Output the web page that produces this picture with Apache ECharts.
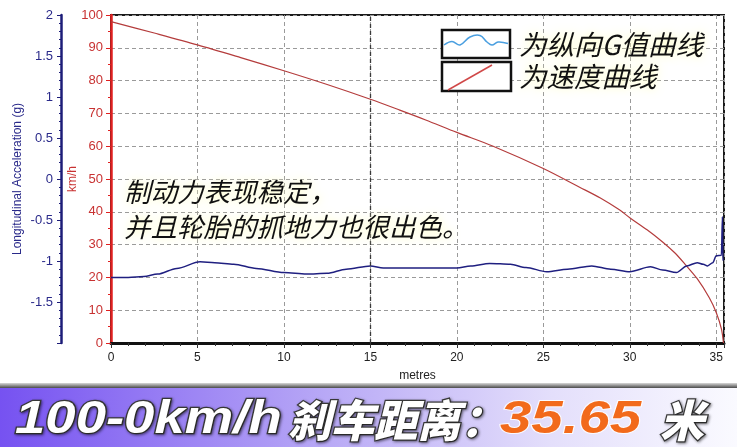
<!DOCTYPE html>
<html><head><meta charset="utf-8">
<script src="https://cdn.jsdelivr.net/npm/echarts@6/dist/echarts.min.js"></script>
<style>html,body{margin:0;padding:0;background:#fff}#c{width:737px;height:447px}</style>
</head><body><div id="c"></div>
<script>
// distance (m) / speed (km/h)
const speedDist  = [0, 2.5, 5.0, 7.5, 10.0, 12.5, 15.0, 16.7, 18.2, 20.0, 22.1, 25.0, 27.1, 28.3, 29.4, 30.0, 31.0, 31.9, 32.6, 33.2, 33.9, 34.6, 35.0, 35.3, 35.42];
const speedValue = [98.0, 94.5, 90.9, 87.0, 83.0, 78.8, 74.3, 71.0, 68.0, 64.2, 60.0, 53.2, 47.5, 44.2, 40.6, 38.2, 34.5, 30.8, 27.5, 24.0, 19.6, 13.8, 9.3, 4.3, 0];
// distance (m) / longitudinal acceleration (g)
const gDist  = [0, 1.0, 1.9, 2.7, 3.8, 5.15, 6.0, 7.1, 8.4, 10.0, 11.3, 12.5, 13.6, 15.0, 15.75, 17.3, 20.0, 20.8, 21.9, 23.1, 24.0, 25.2, 26.4, 27.8, 28.9, 30.0, 31.2, 31.9, 32.7, 33.3, 33.9, 34.25, 34.5, 34.8, 35.0, 35.3, 35.36, 35.38, 35.42];
const gValue = [-1.2, -1.2, -1.19, -1.16, -1.09, -1.01, -1.02, -1.04, -1.09, -1.14, -1.16, -1.15, -1.10, -1.06, -1.085, -1.085, -1.085, -1.06, -1.03, -1.04, -1.08, -1.13, -1.10, -1.06, -1.10, -1.13, -1.07, -1.11, -1.14, -1.06, -1.02, -1.04, -1.06, -1.02, -0.935, -0.93, -0.46, -0.99, -0.97];
const markerDist = [15];
const legendNames = ['为纵向G值曲线', '为速度曲线'];
const noteLines = ['制动力表现稳定，', '并且轮胎的抓地力也很出色。'];
const bannerParts = ['100-0km/h', '刹车距离：', '35.65', '米'];

const chart = echarts.init(document.getElementById('c'));
const dash = [4, 3];
const cjk = '"Noto Sans CJK SC", "Noto Sans", sans-serif';
const lat = '"Liberation Sans", Arial, sans-serif';

const glow = {textShadowColor: 'rgba(255,255,190,1)', textShadowBlur: 8};
const whiteBanner = {fill: '#ffffff', stroke: '#3a3a3a', lineWidth: 2.5, verticalAlign: 'middle', textShadowColor: 'rgba(0,0,0,0.45)', textShadowBlur: 3, textShadowOffsetX: 1, textShadowOffsetY: 1};

chart.setOption({
  animation: false,
  backgroundColor: '#ffffff',
  grid: {left: 111, top: 15, right: 13, bottom: 104, show: true, borderColor: '#1a1a1a', borderWidth: 2, backgroundColor: '#fff'},
  xAxis: {
    type: 'value', min: 0, max: 35.45, interval: 5,
    axisLine: {onZero: false, lineStyle: {color: '#111', width: 3}},
    axisTick: {show: true, length: 5, lineStyle: {color: '#333'}},
    minorTick: {show: true, splitNumber: 5, length: 3, lineStyle: {color: '#333'}},
    axisLabel: {color: '#222', fontSize: 12, fontFamily: lat, margin: 9,
      formatter: v => (Math.abs(v % 5) < 1e-9 ? String(v) : '')},
    splitLine: {show: true, lineStyle: {color: '#9a9a9a', type: dash, width: 1}},
    name: 'metres', nameLocation: 'middle', nameGap: 27, nameMoveOverlap: false,
    nameTextStyle: {color: '#222', fontSize: 12, fontFamily: lat}
  },
  yAxis: [
    {
      type: 'value', min: 0, max: 100, interval: 10, position: 'left',
      axisLine: {show: true, onZero: false, lineStyle: {color: '#e02020', width: 2.5}},
      axisTick: {show: true, length: 5, lineStyle: {color: '#e02020'}},
      minorTick: {show: true, splitNumber: 2, length: 3, lineStyle: {color: '#e02020'}},
      axisLabel: {color: '#c83232', fontSize: 13, fontFamily: lat, margin: 8},
      splitLine: {show: true, lineStyle: {color: '#9a9a9a', type: dash, width: 1}},
      name: 'km/h', nameLocation: 'middle', nameGap: 32, nameMoveOverlap: false,
      nameTextStyle: {color: '#c83232', fontSize: 12, fontFamily: lat}
    },
    {
      type: 'value', min: -2, max: 2, interval: 0.5, position: 'left', offset: 50,
      axisLine: {show: true, onZero: false, lineStyle: {color: '#1c1c78', width: 2.5}},
      axisTick: {show: true, length: 4, lineStyle: {color: '#1c1c78'}},
      minorTick: {show: true, splitNumber: 5, length: 2, lineStyle: {color: '#1c1c78'}},
      axisLabel: {color: '#2a2a8a', fontSize: 13, fontFamily: lat, margin: 8,
        formatter: v => (v === -2 ? '' : String(v))},
      splitLine: {show: false},
      name: 'Longitudinal Acceleration (g)', nameLocation: 'middle', nameGap: 37, nameMoveOverlap: false,
      nameTextStyle: {color: '#2a2a8a', fontSize: 12, fontFamily: lat}
    }
  ],
  series: [
    {
      type: 'line', name: legendNames[1], yAxisIndex: 0,
      data: speedDist.map((d, i) => [d, speedValue[i]]),
      showSymbol: false, symbol: 'none', smooth: 0.3,
      lineStyle: {color: '#b43c3c', width: 1.2},
      markLine: {symbol: 'none', silent: true, label: {show: false},
        lineStyle: {color: '#3a3a3a', type: dash, width: 1.3},
        data: markerDist.map(v => ({xAxis: v}))},
      z: 3
    },
    {
      type: 'line', name: legendNames[0], yAxisIndex: 1,
      data: gDist.map((d, i) => [d, gValue[i]]),
      showSymbol: false, symbol: 'none', smooth: 0.3, smoothMonotone: 'x',
      lineStyle: {color: '#1f1f80', width: 1.5},
      z: 4
    }
  ],
  graphic: [
    // note text
    {type: 'text', x: 124, y: 192, z: 50, style: Object.assign({text: noteLines[0], fill: '#111', fontSize: 26.5, fontStyle: 'italic', fontFamily: cjk, verticalAlign: 'middle'}, glow)},
    {type: 'text', x: 124, y: 227, z: 50, style: Object.assign({text: noteLines[1], fill: '#111', fontSize: 26.5, fontStyle: 'italic', fontFamily: cjk, verticalAlign: 'middle'}, glow)},
    // legend boxes
    {type: 'rect', z: 50, shape: {x: 442, y: 30, width: 68, height: 28}, style: {fill: '#fff', stroke: '#111', lineWidth: 2.5}},
    {type: 'polyline', z: 51, shape: {points: [[444, 45], [452, 41.5], [460, 45], [470, 37], [480, 35.5], [487, 42], [492, 45], [498, 42], [508, 43.5]], smooth: 0.4}, style: {stroke: '#4a9fe0', lineWidth: 1.5, fill: null}},
    {type: 'rect', z: 50, shape: {x: 442, y: 62, width: 69, height: 29}, style: {fill: '#fff', stroke: '#111', lineWidth: 2.5}},
    {type: 'line', z: 51, shape: {x1: 448, y1: 90, x2: 492, y2: 65}, style: {stroke: '#d04848', lineWidth: 1.5}},
    {type: 'text', x: 519, y: 45, z: 50, style: Object.assign({text: legendNames[0], fill: '#111', fontSize: 27.5, fontStyle: 'italic', fontFamily: cjk, verticalAlign: 'middle'}, glow)},
    {type: 'text', x: 519, y: 77, z: 50, style: Object.assign({text: legendNames[1], fill: '#111', fontSize: 27.5, fontStyle: 'italic', fontFamily: cjk, verticalAlign: 'middle'}, glow)},
    // banner
    {type: 'rect', z: 40, shape: {x: 0, y: 383, width: 737, height: 5},
      style: {fill: new echarts.graphic.LinearGradient(0, 0, 0, 1, [{offset: 0, color: '#d8d8d8'}, {offset: 1, color: '#4a4a4a'}])}},
    {type: 'rect', z: 40, shape: {x: 0, y: 388, width: 737, height: 59},
      style: {fill: new echarts.graphic.LinearGradient(0, 0, 1, 0, [{offset: 0, color: '#7652f1'}, {offset: 0.45, color: '#b9aaf6'}, {offset: 0.75, color: '#e4dffb'}, {offset: 1, color: '#fafaff'}])}},
    {type: 'text', x: 15, y: 420, z: 60, scaleX: 1.16,
      style: Object.assign({text: bannerParts[0], fontSize: 47, fontWeight: 'bold', fontStyle: 'italic', fontFamily: lat}, whiteBanner)},
    {type: 'text', x: 288, y: 420, z: 60, scaleX: 0.98,
      style: Object.assign({text: bannerParts[1], fontSize: 44, fontWeight: 900, fontStyle: 'italic', fontFamily: cjk}, whiteBanner)},
    {type: 'text', x: 500, y: 420, z: 60, scaleX: 1.2,
      style: {text: bannerParts[2], fill: '#f26a1b', stroke: 'rgba(255,255,255,0.85)', lineWidth: 2, fontSize: 47, fontWeight: 'bold', fontStyle: 'italic', fontFamily: lat, verticalAlign: 'middle'}},
    {type: 'text', x: 660, y: 420, z: 60,
      style: Object.assign({text: bannerParts[3], fontSize: 44, fontWeight: 900, fontStyle: 'italic', fontFamily: cjk}, whiteBanner)}
  ]
});
</script>
</body></html>
